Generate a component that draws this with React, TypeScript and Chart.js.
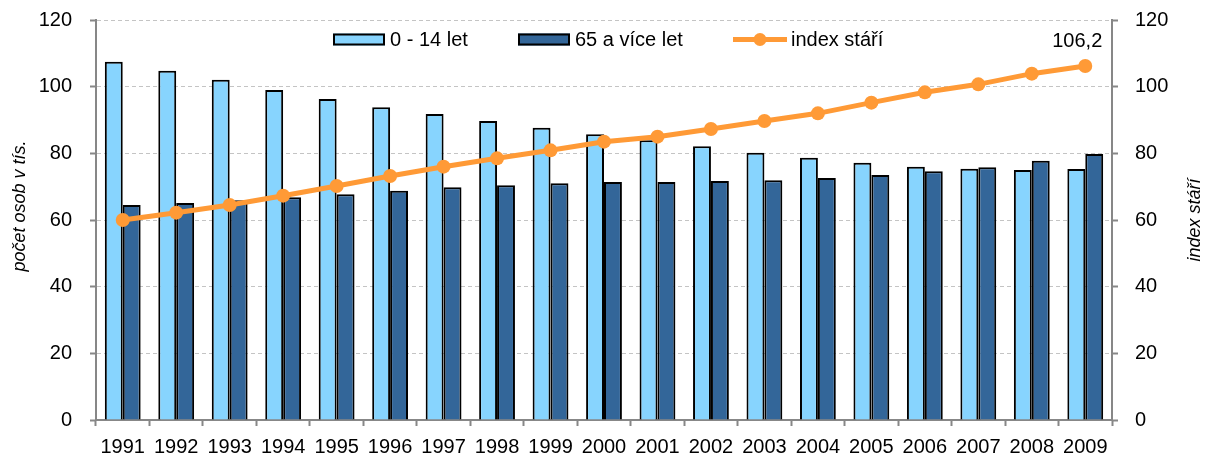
import React, { useEffect, useRef } from "react";
import { Chart, registerables } from "chart.js";

Chart.register(...registerables);

const years = ["1991","1992","1993","1994","1995","1996","1997","1998","1999","2000","2001","2002","2003","2004","2005","2006","2007","2008","2009"];
const kids = [107.5,104.8,102.1,99.0,96.3,93.8,91.8,89.7,87.7,85.7,83.9,82.1,80.2,78.7,77.2,76.0,75.4,75.0,75.3];
const seniors = [64.5,65.1,65.9,66.8,67.7,68.8,69.8,70.4,71.0,71.4,71.4,71.7,71.9,72.6,73.5,74.6,75.8,77.8,79.8];
const ageIndex = [60.0,62.2,64.5,67.3,70.2,73.2,76.0,78.5,80.9,83.5,85.0,87.3,89.7,92.0,95.2,98.3,100.7,103.9,106.2];
const yTicks = [0, 20, 40, 60, 80, 100, 120];
const lastLabel = "106,2";
const leftTitle = "počet osob v tís.";
const rightTitle = "index stáří";

const FONT = "'Liberation Sans', Arial, sans-serif";
const LIGHT = "#87D4FE";
const DARK = "#336699";
const ORANGE = "#FF9A36";
const AXIS = "#878787";
const GRID = "#C4C4C4";

const overlayPlugin = {
  id: "overlay",
  afterDraw(chart: any) {
    const ctx = chart.ctx;
    ctx.save();
    ctx.fillStyle = "#000";
    ctx.font = `italic 18px ${FONT}`;
    ctx.textAlign = "center";
    ctx.textBaseline = "middle";
    ctx.save();
    ctx.translate(20, 206);
    ctx.rotate(-Math.PI / 2);
    ctx.fillText(leftTitle, 0, 0);
    ctx.restore();
    ctx.save();
    ctx.translate(1195, 220);
    ctx.rotate(-Math.PI / 2);
    ctx.fillText(rightTitle, 0, 0);
    ctx.restore();

    const meta = chart.getDatasetMeta(0);
    const pt = meta.data[meta.data.length - 1];
    ctx.font = `20px ${FONT}`;
    ctx.textAlign = "center";
    ctx.textBaseline = "alphabetic";
    ctx.fillText(lastLabel, pt.x - 8, pt.y - 19);

    const ds = chart.data.datasets;
    const cy = 39.5;
    ctx.font = `20px ${FONT}`;
    ctx.textAlign = "left";
    ctx.textBaseline = "middle";
    const boxItem = (x: number, idx: number, tx: number) => {
      ctx.fillStyle = ds[idx].backgroundColor;
      ctx.fillRect(x, cy - 6, 52, 12);
      ctx.strokeStyle = "#000";
      ctx.lineWidth = 2;
      ctx.strokeRect(x + 1, cy - 5, 50, 10);
      ctx.fillStyle = "#000";
      ctx.fillText(ds[idx].label, tx, cy + 1);
    };
    boxItem(333, 1, 390);
    boxItem(518, 2, 575);
    ctx.strokeStyle = ds[0].borderColor;
    ctx.lineWidth = 5;
    ctx.beginPath();
    ctx.moveTo(733, cy);
    ctx.lineTo(787, cy);
    ctx.stroke();
    ctx.fillStyle = ds[0].borderColor;
    ctx.beginPath();
    ctx.arc(760, cy, 6.5, 0, Math.PI * 2);
    ctx.fill();
    ctx.fillStyle = "#000";
    ctx.fillText(ds[0].label, 791, cy + 1);
    ctx.restore();
  },
};

export default function App() {
  const ref = useRef<HTMLCanvasElement>(null);
  useEffect(() => {
    if (!ref.current) return;
    Chart.defaults.font.family = FONT;
    const chart = new Chart(ref.current, {
      type: "bar",
      data: {
        labels: years,
        datasets: [
          {
            type: "line",
            label: "index stáří",
            data: ageIndex,
            yAxisID: "y1",
            borderColor: ORANGE,
            backgroundColor: ORANGE,
            borderWidth: 5,
            pointRadius: 7,
            pointBorderWidth: 0,
            pointBackgroundColor: ORANGE,
            tension: 0,
            order: 0,
          } as any,
          {
            type: "bar",
            label: "0 - 14 let",
            data: kids,
            yAxisID: "y",
            backgroundColor: LIGHT,
            borderColor: "#000",
            borderWidth: 2,
            categoryPercentage: 0.67,
            barPercentage: 1.0,
            order: 1,
          },
          {
            type: "bar",
            label: "65 a více let",
            data: seniors,
            yAxisID: "y",
            backgroundColor: DARK,
            borderColor: "#000",
            borderWidth: 2,
            categoryPercentage: 0.67,
            barPercentage: 1.0,
            order: 2,
          },
        ],
      },
      options: {
        animation: false,
        responsive: false,
        maintainAspectRatio: false,
        layout: { padding: { top: 20, left: 0, right: 0, bottom: 0 } },
        plugins: {
          legend: { display: false },
          tooltip: { enabled: false },
          title: { display: false },
        },
        scales: {
          x: {
            offset: true,
            grid: {
              offset: true,
              drawOnChartArea: false,
              drawTicks: true,
              tickLength: 6,
              tickColor: AXIS,
              tickWidth: 2,
            },
            border: { display: true, color: AXIS, width: 2 },
            ticks: { color: "#000", font: { size: 20, family: FONT }, padding: 9, maxRotation: 0, autoSkip: false },
            afterFit: (s: any) => { s.height = 36; s.paddingLeft = 0; s.paddingRight = 0; },
          },
          y: {
            position: "left",
            min: 0,
            max: 120,
            afterBuildTicks: (s: any) => { s.ticks = yTicks.map((v) => ({ value: v })); },
            grid: {
              color: GRID,
              lineWidth: 1,
              drawTicks: true,
              tickLength: 6,
              tickColor: AXIS,
              tickWidth: 2,
              tickBorderDash: [],
            },
            border: { display: true, color: AXIS, width: 2, dash: [4, 3] },
            ticks: { color: "#000", font: { size: 20, family: FONT }, padding: 18 },
            afterFit: (s: any) => { s.width = 96; s.paddingTop = 0; s.paddingBottom = 0; },
          },
          y1: {
            position: "right",
            min: 0,
            max: 120,
            afterBuildTicks: (s: any) => { s.ticks = yTicks.map((v) => ({ value: v })); },
            grid: {
              drawOnChartArea: false,
              drawTicks: true,
              tickLength: 6,
              tickColor: AXIS,
              tickWidth: 2,
            },
            border: { display: true, color: AXIS, width: 2 },
            ticks: { color: "#000", font: { size: 20, family: FONT }, padding: 17 },
            afterFit: (s: any) => { s.width = 98; s.paddingTop = 0; s.paddingBottom = 0; },
          },
        },
      },
      plugins: [overlayPlugin],
    });
    return () => chart.destroy();
  }, []);
  return (
    <div style={{ position: "fixed", left: 0, top: 0, width: 1210, height: 456, background: "#fff" }}>
      <canvas ref={ref} width={1210} height={456} style={{ display: "block" }} />
    </div>
  );
}
